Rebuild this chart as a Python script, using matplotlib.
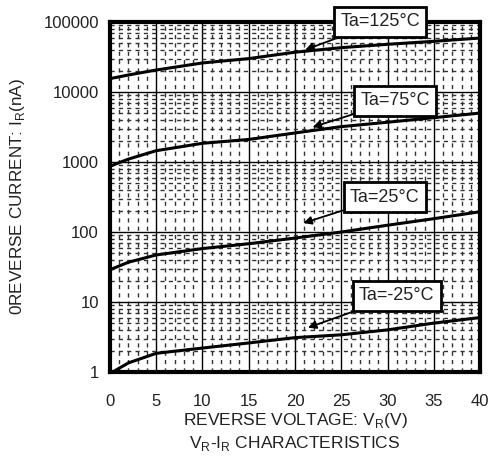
import numpy as np
import matplotlib.pyplot as plt
from matplotlib.ticker import LogLocator, MultipleLocator, NullFormatter

plt.rcParams['font.family'] = ['Liberation Sans', 'DejaVu Sans']

# reverse voltage (V) and reverse current (nA)
v_r = [0.3, 2, 5, 10, 15, 20, 25, 30, 35, 40]
i_125 = [15800, 17500, 20600, 26000, 30000, 37000, 43000, 48000, 53000, 59000]
i_75 = [900, 1100, 1450, 1850, 2100, 2600, 3200, 3700, 4300, 5000]
i_25 = [30, 37, 47, 58, 68, 82, 100, 125, 155, 195]
i_m25 = [1.0, 1.35, 1.85, 2.2, 2.6, 3.1, 3.4, 4.0, 5.0, 6.0]

labels = ['Ta=125°C', 'Ta=75°C', 'Ta=25°C', 'Ta=-25°C']
# arrow tips (V, nA) and box centres (V, nA)
tips = [(21.1, 40000), (21.9, 3150), (20.9, 134), (21.4, 4.3)]
boxes = [(29.2, 100000), (30.8, 7450), (29.7, 316), (31.0, 12.2)]

txt = '#222222'

fig = plt.figure(figsize=(4.95, 4.63), dpi=100)
ax = fig.add_axes([0.222, 0.1965, 0.748, 0.756])

for cur in (i_125, i_75, i_25, i_m25):
    ax.plot(v_r, cur, color='black', lw=2.2, zorder=3)

ax.set_yscale('log')
ax.set_xlim(0, 40)
ax.set_ylim(1, 100000)
ax.xaxis.set_major_locator(MultipleLocator(5))
ax.xaxis.set_minor_locator(MultipleLocator(1))
ax.yaxis.set_major_locator(LogLocator(base=10, numticks=10))
ax.yaxis.set_minor_locator(LogLocator(base=10, subs=np.arange(2, 10), numticks=20))
ax.yaxis.set_minor_formatter(NullFormatter())
ax.set_yticks([1, 10, 100, 1000, 10000, 100000])
ax.set_yticklabels(['1', '10', '100', '1000', '10000', '100000'])

ax.grid(which='major', color='black', lw=1.0)
ax.grid(which='minor', color='#333333', lw=1.0, ls=(0, (3, 3)))
ax.tick_params(which='both', length=0, labelsize=12, colors=txt)
ax.tick_params(axis='x', pad=16)
ax.tick_params(axis='y', pad=8)
for s in ax.spines.values():
    s.set_linewidth(3)
    s.set_zorder(5)

ax.set_xlabel('REVERSE VOLTAGE: V$_\\mathregular{R}$(V)', fontsize=12.5, color=txt, labelpad=1)
ax.set_ylabel('0REVERSE CURRENT: I$_\\mathregular{R}$(nA)', fontsize=12.3, color=txt, labelpad=12)
fig.text(0.596, 0.042, 'V$_\\mathregular{R}$-I$_\\mathregular{R}$ CHARACTERISTICS',
         ha='center', va='center', fontsize=12.5, color=txt)

for lab, tip, box in zip(labels, tips, boxes):
    ax.annotate(lab, xy=tip, xytext=box, ha='center', va='center', fontsize=13,
                color=txt, annotation_clip=False, zorder=6,
                bbox=dict(boxstyle='square,pad=0.35', fc='white', ec='black', lw=2),
                arrowprops=dict(arrowstyle='-|>', color='black', lw=1.3,
                                mutation_scale=12, shrinkA=0, shrinkB=0))

plt.savefig('out.png', dpi=100)
